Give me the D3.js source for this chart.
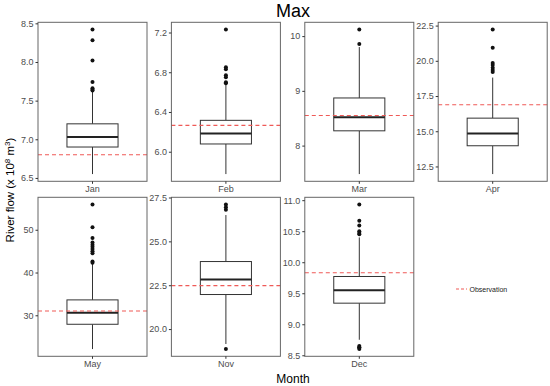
<!DOCTYPE html>
<html>
<head>
<meta charset="utf-8">
<script src="https://cdn.jsdelivr.net/npm/d3@7"></script>
<style>
  body { margin: 0; background: #fff; }
  text { font-family: "Liberation Sans", Arial, sans-serif; }
</style>
</head>
<body>
<div id="chart"></div>
<script>
const width = 550;
const height = 386;

// box statistics per month
const months      = ["Jan", "Feb", "Mar", "Apr", "May", "Nov", "Dec"];
const whiskerLow  = [6.55, 5.775, 7.48, 11.96, 22.1, 19.15, 8.75];
const q1          = [6.90, 6.078, 8.27, 13.97, 27.9, 21.97, 9.34];
const median      = [7.03, 6.184, 8.52, 14.84, 30.6, 22.83, 9.55];
const q3          = [7.20, 6.316, 8.87, 15.93, 33.6, 23.85, 9.77];
const whiskerHigh = [7.62, 6.68, 9.80, 18.81, 42.0, 26.5, 10.40];
const outliers = [
    [8.42, 8.28, 8.02, 7.74, 7.66, 7.64, 7.63],
    [7.23, 6.85, 6.83, 6.77, 6.75, 6.70, 6.69],
    [10.12, 9.855],
    [22.22, 20.92, 19.85, 19.7, 19.5, 19.35, 19.2],
    [55.9, 50.6, 48.1, 47.0, 46.5, 46.0, 45.5, 45.0, 44.5, 42.6, 42.3],
    [27.1, 26.95, 26.8, 18.86],
    [10.93, 10.67, 10.59, 10.5, 10.47, 10.45, 8.65, 8.63, 8.62, 8.60]
];
const observation = [6.80, 6.265, 8.55, 16.88, 31.0, 22.48, 9.83];

// y tick labels per panel
const yTicks = [
    ["6.5", "7.0", "7.5", "8.0", "8.5"],
    ["6.0", "6.4", "6.8", "7.2"],
    ["8", "9", "10"],
    ["12.5", "15.0", "17.5", "20.0", "22.5"],
    ["30", "40", "50"],
    ["20.0", "22.5", "25.0", "27.5"],
    ["8.5", "9.0", "9.5", "10.0", "10.5", "11.0"]
];

const obsColor = "#ef5a57";

const svg = d3.select("#chart")
    .append("svg")
    .attr("width", width)
    .attr("height", height);

// panel grid
const panelW = 109;
const panelH = 159;
const colX = d3.scaleLinear().domain([0, 1]).range([38, 171.4]);
const rowY = [22.3, 197.3];

svg.append("text")
    .attr("x", 293).attr("y", 17)
    .attr("text-anchor", "middle")
    .attr("font-size", 18)
    .attr("fill", "#000")
    .text("Max");

months.forEach((m, i) => {
    const col = i % 4;
    const row = Math.floor(i / 4);
    const x0 = colX(col);
    const y0 = rowY[row];

    const lo = d3.min([whiskerLow[i], observation[i], ...outliers[i]]);
    const hi = d3.max([whiskerHigh[i], observation[i], ...outliers[i]]);
    const pad = (hi - lo) * 0.05;
    const y = d3.scaleLinear().domain([lo - pad, hi + pad]).range([y0 + panelH, y0]);
    const x = d3.scaleBand().domain([m]).range([x0, x0 + panelW]).paddingOuter(0.3);

    const g = svg.append("g");
    const cx = x(m) + x.bandwidth() / 2;
    const bw = x.bandwidth() * 0.75;

    // whiskers
    g.append("line")
        .attr("x1", cx).attr("x2", cx)
        .attr("y1", y(whiskerLow[i])).attr("y2", y(q1[i]))
        .attr("stroke", "#333").attr("stroke-width", 1);
    g.append("line")
        .attr("x1", cx).attr("x2", cx)
        .attr("y1", y(q3[i])).attr("y2", y(whiskerHigh[i]))
        .attr("stroke", "#333").attr("stroke-width", 1);

    // box
    g.append("rect")
        .attr("x", cx - bw / 2).attr("width", bw)
        .attr("y", y(q3[i])).attr("height", y(q1[i]) - y(q3[i]))
        .attr("fill", "#fff").attr("stroke", "#333").attr("stroke-width", 1);
    g.append("line")
        .attr("x1", cx - bw / 2).attr("x2", cx + bw / 2)
        .attr("y1", y(median[i])).attr("y2", y(median[i]))
        .attr("stroke", "#222").attr("stroke-width", 2);

    // outliers
    g.selectAll("circle")
        .data(outliers[i])
        .join("circle")
        .attr("cx", cx).attr("cy", d => y(d))
        .attr("r", 2).attr("fill", "#111");

    // observation line
    g.append("line")
        .attr("x1", x0).attr("x2", x0 + panelW)
        .attr("y1", y(observation[i])).attr("y2", y(observation[i]))
        .attr("stroke", obsColor).attr("stroke-width", 1.2)
        .attr("stroke-dasharray", "4,3");

    // panel border
    g.append("rect")
        .attr("x", x0).attr("y", y0)
        .attr("width", panelW).attr("height", panelH)
        .attr("fill", "none").attr("stroke", "#666").attr("stroke-width", 1);

    // axes
    const yAxis = d3.axisLeft(y)
        .tickValues(yTicks[i].map(Number))
        .tickFormat((d, k) => yTicks[i][k])
        .tickSize(2.5).tickPadding(2);
    const ya = svg.append("g")
        .attr("transform", `translate(${x0},0)`)
        .call(yAxis);
    ya.select(".domain").remove();
    ya.selectAll("line").attr("stroke", "#333");
    ya.selectAll("text").attr("font-size", 9).attr("fill", "#4d4d4d")
        .style("font-family", "'Liberation Sans', Arial, sans-serif");

    const xAxis = d3.axisBottom(x).tickSize(2.5).tickPadding(2);
    const xa = svg.append("g")
        .attr("transform", `translate(0,${y0 + panelH})`)
        .call(xAxis);
    xa.select(".domain").remove();
    xa.selectAll("line").attr("stroke", "#333");
    xa.selectAll("text").attr("font-size", 9).attr("fill", "#4d4d4d")
        .style("font-family", "'Liberation Sans', Arial, sans-serif");
});

// axis titles
const yt = svg.append("text")
    .attr("transform", "translate(14,190) rotate(-90)")
    .attr("text-anchor", "middle")
    .attr("font-size", 11.5)
    .attr("fill", "#000");
yt.append("tspan").text("River flow (x 10");
yt.append("tspan").attr("dy", -4).attr("font-size", 8).text("8");
yt.append("tspan").attr("dy", 4).text(" m");
yt.append("tspan").attr("dy", -4).attr("font-size", 8).text("3");
yt.append("tspan").attr("dy", 4).text(")");

svg.append("text")
    .attr("x", 293).attr("y", 383)
    .attr("text-anchor", "middle")
    .attr("font-size", 12)
    .attr("fill", "#000")
    .text("Month");

// legend
const lg = svg.append("g").attr("transform", "translate(456,289)");
lg.append("line")
    .attr("x1", 0).attr("x2", 11).attr("y1", 0).attr("y2", 0)
    .attr("stroke", obsColor).attr("stroke-width", 1.2)
    .attr("stroke-dasharray", "3,2");
lg.append("text")
    .attr("x", 13.5).attr("y", 2.5)
    .attr("font-size", 7).attr("fill", "#222")
    .text("Observation");
</script>
</body>
</html>
